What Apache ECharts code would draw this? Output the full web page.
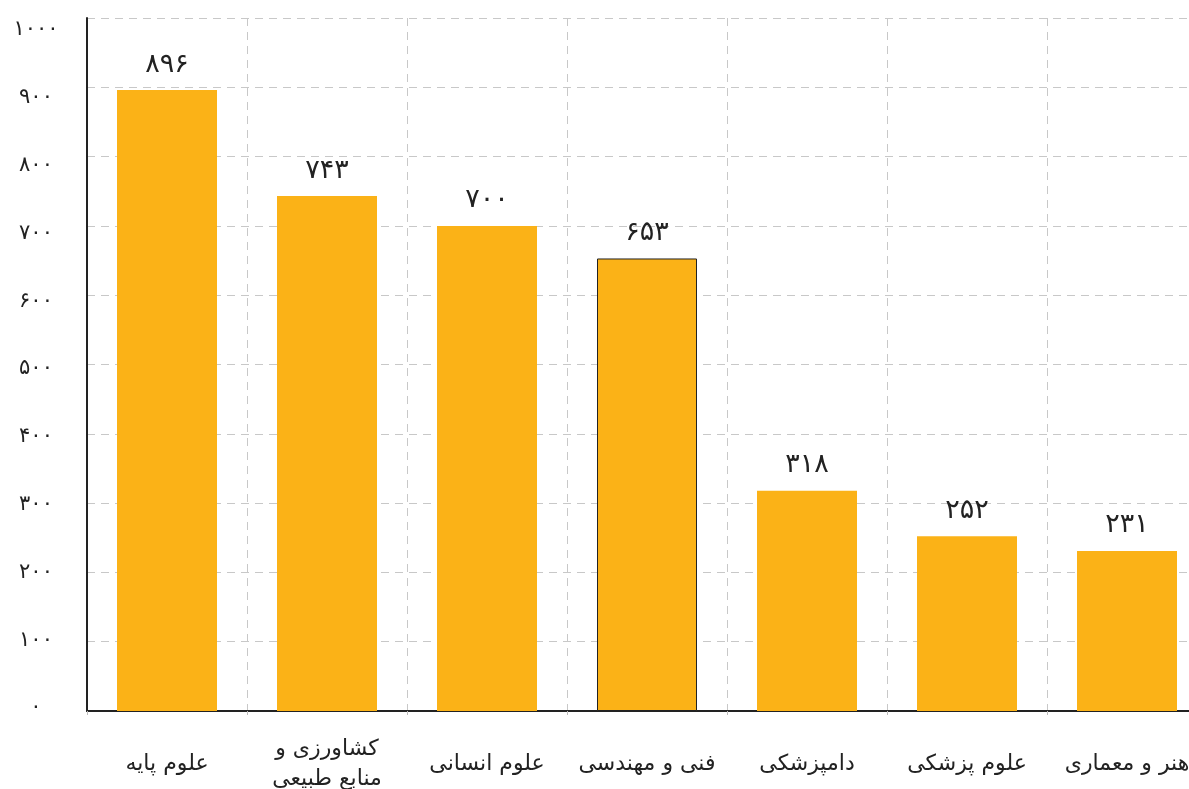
<!DOCTYPE html>
<html>
<head>
<meta charset="utf-8">
<script src="https://cdn.jsdelivr.net/npm/echarts@6/dist/echarts.min.js"></script>
<style>
html,body{margin:0;padding:0;background:#fff;overflow:hidden;}
#chart{width:1189px;height:789px;}
</style>
</head>
<body>
<div id="chart"></div>
<script>
const categories = ['علوم پایه', 'کشاورزی و\nمنابع طبیعی', 'علوم انسانی', 'فنی و مهندسی', 'دامپزشکی', 'علوم پزشکی', 'هنر و معماری'];
const values = [896, 743, 700, 653, 318, 252, 231];
const highlighted = [false, false, false, true, false, false, false];
const persianDigits = ['۰','۱','۲','۳','۴','۵','۶','۷','۸','۹'];
const yMin = 0, yMax = 1000, yInterval = 100;

function toFa(n){ return String(n).replace(/[0-9]/g, d => persianDigits[+d]); }

const chart = echarts.init(document.getElementById('chart'), null, { width: 1189, height: 789 });
const font = '"DejaVu Sans", sans-serif';
chart.setOption({
  animation: false,
  grid: [
    { left: 87, top: 18, right: -18, height: 693, containLabel: false, outerBoundsMode: 'none' },
    { left: 87, top: 30, right: -18, height: 678, containLabel: false, outerBoundsMode: 'none' }
  ],
  xAxis: [{
    type: 'category',
    gridIndex: 0,
    data: categories,
    boundaryGap: true,
    axisLine: { show: true, lineStyle: { color: '#222', width: 2 } },
    axisTick: { show: true, length: 4, lineStyle: { color: '#bbb' } },
    splitLine: { show: true, lineStyle: { color: '#c8c8c8', type: [8, 6], width: 1 } },
    axisLabel: { color: '#222', fontSize: 22, fontFamily: font, margin: 53, verticalAlign: 'middle', lineHeight: 30, interval: 0 }
  }, {
    type: 'category',
    gridIndex: 1,
    data: categories,
    show: false
  }],
  yAxis: [{
    type: 'value',
    gridIndex: 0,
    min: yMin, max: yMax, interval: yInterval,
    axisLine: { show: true, lineStyle: { color: '#222', width: 2 } },
    axisTick: { show: false },
    splitLine: { show: true, lineStyle: { color: '#c8c8c8', type: [8, 6], width: 1 } },
    axisLabel: { show: false }
  }, {
    type: 'value',
    gridIndex: 1,
    min: yMin, max: yMax, interval: yInterval,
    axisLine: { show: false },
    axisTick: { show: false },
    splitLine: { show: false },
    axisLabel: { color: '#222', fontSize: 21, fontFamily: font, margin: 51, align: 'center', formatter: v => toFa(v) }
  }],
  series: [{
    type: 'bar',
    xAxisIndex: 0,
    yAxisIndex: 0,
    barWidth: 100,
    data: values.map((v, i) => ({
      value: v,
      itemStyle: highlighted[i] ? { color: '#FBB217', borderColor: '#222', borderWidth: 1 } : { color: '#FBB217' }
    })),
    label: {
      show: true, position: 'top', distance: 12,
      color: '#222', fontSize: 27, fontFamily: font,
      formatter: p => toFa(p.value)
    }
  }]
});
</script>
</body>
</html>
